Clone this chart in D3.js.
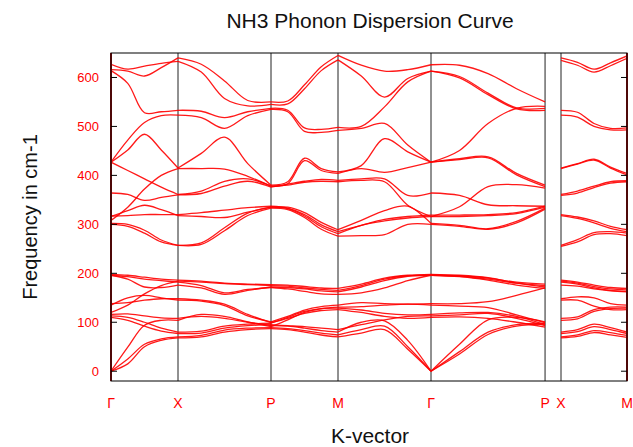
<!DOCTYPE html>
<html>
<head>
<meta charset="utf-8">
<title>NH3 Phonon Dispersion Curve</title>
<script src="https://cdn.jsdelivr.net/npm/d3@7"></script>
<style>
  body{margin:0;background:#fff;}
  text{font-family:"Liberation Sans",Arial,sans-serif;}
</style>
</head>
<body>
<script>
// high symmetry points along the path (path length units)
var kTicks=[0,1,2.388,3.388,4.776,6.478,6.716,7.701];
var kLabels=["Γ","X","P","M","Γ","P","X","M"];
var yTicks=[0,100,200,300,400,500,600];

// sample points: Γ-X-P-M-Γ-P (5 per segment), then X-M after the break
var kMain=[0,0.25,0.5,0.75,1, 1.347,1.694,2.041,2.388, 2.638,2.888,3.138,3.388,
           3.735,4.082,4.429,4.776, 5.2015,5.627,6.0525,6.478];
var kSide=[6.716,6.962,7.209,7.455,7.701];

// frequencies in cm-1 at the sample points
var highMain=[
  [616,613,603,620,640, 627,593,553,550, 552,585,622,645, 625,613,616,626, 625,608,577,550],
  [627,617,623,629,633, 611,557,542,545, 546,577,614,636, 603,560,598,613, 602,568,538,537],
  [614,588,528,530,533, 531,518,530,537, 533,497,494,498, 500,540,591,613, 599,565,536,533],
  [427,472,508,522,523, 518,496,522,535, 530,490,488,492, 496,506,462,427, 451,506,537,541]
];
var highSide=[
  [640,631,617,630,644],
  [635,625,611,624,639],
  [533,529,506,496,497],
  [523,519,500,493,493]
];
var midMain=[
  [427,452,484,452,415, 445,478,424,380, 387,435,414,407, 420,475,448,427, 434,438,404,380],
  [427,410,393,376,361, 368,388,393,378, 383,430,410,404, 414,406,416,427, 432,436,401,377],
  [364,361,349,355,360, 363,378,388,376, 382,388,392,390, 393,393,359,364, 359,340,338,337],
  [308,335,372,400,414, 414,413,398,378, 380,386,388,387, 390,387,339,316, 336,377,381,374]
];
var midSide=[
  [415,424,433,417,404],
  [414,423,431,415,401],
  [361,368,378,387,389],
  [359,364,375,384,387]
];
var libMain=[
  [317,318,320,320,320, 324,329,334,337, 333,320,299,285, 298,310,316,319, 319,320,324,337],
  [316,328,339,330,318, 316,314,325,335, 332,317,295,281, 298,307,313,316, 316,318,322,335],
  [302,300,288,268,257, 262,293,323,335, 335,324,304,289, 308,328,337,302, 298,291,306,333],
  [300,296,282,264,257, 259,287,318,333, 330,314,290,276, 277,279,300,300, 296,290,303,331]
];
var libSide=[
  [320,315,307,296,289],
  [318,312,303,292,285],
  [257,269,283,285,282],
  [255,264,279,281,277]
];
var lowMain=[
  [0,15,50,63,68, 70,80,85,87, 85,80,74,70, 78,85,45,0, 40,80,95,98],
  [0,25,55,66,70, 73,84,88,89, 87,83,78,74, 85,92,50,0, 35,75,92,96],
  [0,49,94,104,104, 116,112,101,93, 92,88,83,80, 100,103,63,0, 55,105,110,101],
  [110,104,92,82,77, 78,88,93,95, 93,91,88,85, 95,105,112,113, 115,118,108,93],
  [113,110,100,88,80, 82,92,96,98, 110,122,128,129, 125,118,115,116, 119,120,112,95],
  [116,117,113,109,108, 112,108,100,91, 105,120,128,131, 132,135,137,135, 133,130,115,99],
  [135,150,155,150,145, 143,134,113,101, 112,125,132,135, 140,138,137,138, 138,142,155,170],
  [138,140,145,148,148, 145,137,116,99, 108,118,124,126, 120,112,108,110, 111,108,100,90],
  [196,188,172,171,176, 170,157,165,172, 171,168,164,162, 172,185,194,196, 195,190,182,178],
  [196,193,188,185,182, 175,160,167,171, 168,163,158,157, 160,170,185,196, 194,188,180,175],
  [198,196,192,188,186, 184,180,178,177, 176,173,170,169, 178,190,196,198, 196,191,180,172],
  [120,135,158,175,184, 182,179,177,175, 174,170,167,165, 175,188,195,196, 193,186,176,169]
];
var lowSide=[
  [68,71,79,74,69],
  [70,74,83,79,73],
  [104,107,122,128,129],
  [77,81,91,85,77],
  [80,85,96,89,80],
  [108,111,126,131,131],
  [145,145,133,126,126],
  [148,152,150,138,135],
  [176,174,168,164,162],
  [182,178,170,165,163],
  [186,182,176,171,169],
  [184,180,173,168,166]
];

var width=633,height=447;
var plotL=111,plotR=627,plotT=53,plotB=381;

var svg=d3.select("body").append("svg")
          .attr("width",width)
          .attr("height",height);

var x=d3.scaleLinear().domain(d3.extent(kTicks)).range([plotL,plotR]);
var y=d3.scaleLinear().domain([-20,650]).range([plotB,plotT]);

svg.append("clipPath").attr("id","plotclip")
   .append("rect")
   .attr("x",plotL).attr("y",plotT)
   .attr("width",plotR-plotL).attr("height",plotB-plotT);

// separators at the symmetry points
svg.append("g").selectAll("line")
   .data(kTicks.slice(1,-1))
   .join("line")
   .attr("x1",d=>x(d)).attr("x2",d=>x(d))
   .attr("y1",plotT).attr("y2",plotB)
   .attr("stroke","#222")
   .attr("stroke-width",1);

// split each band at the symmetry points so kinks are allowed there
var line=d3.line()
           .x(d=>x(d[0]))
           .y(d=>y(d[1]))
           .curve(d3.curveCatmullRom.alpha(0.5));

function pieces(k,vals){
    var out=[];
    for(var s=0;s+4<k.length;s+=4){
        var p=[];
        for(var i=s;i<=s+4;i++){
            p.push([k[i],vals[i]]);
        }
        out.push(p);
    }
    return out;
}

var segs=[];
[highMain,midMain,libMain,lowMain].forEach(function(g){
    g.forEach(function(b){ segs=segs.concat(pieces(kMain,b)); });
});
[highSide,midSide,libSide,lowSide].forEach(function(g){
    g.forEach(function(b){ segs=segs.concat(pieces(kSide,b)); });
});

svg.append("g")
   .attr("clip-path","url(#plotclip)")
   .selectAll("path")
   .data(segs)
   .join("path")
   .attr("d",line)
   .attr("fill","none")
   .attr("stroke","#ff0000")
   .attr("stroke-width",1.3)
   .attr("stroke-opacity",0.9);

// dark red edges at both ends of the path
svg.append("g").selectAll("line")
   .data([kTicks[0],kTicks[kTicks.length-1]])
   .join("line")
   .attr("x1",d=>x(d)).attr("x2",d=>x(d))
   .attr("y1",plotT).attr("y2",plotB)
   .attr("stroke","#9b1010")
   .attr("stroke-width",2);

// frame
svg.append("rect")
   .attr("x",plotL).attr("y",plotT)
   .attr("width",plotR-plotL).attr("height",plotB-plotT)
   .attr("fill","none")
   .attr("stroke","#000")
   .attr("stroke-width",1);

// y ticks (inward, both sides)
var yt=svg.append("g");
yt.selectAll("line.l").data(yTicks).join("line")
  .attr("class","l")
  .attr("x1",plotL).attr("x2",plotL+6)
  .attr("y1",d=>y(d)).attr("y2",d=>y(d))
  .attr("stroke","#000");
yt.selectAll("line.r").data(yTicks).join("line")
  .attr("class","r")
  .attr("x1",plotR-6).attr("x2",plotR)
  .attr("y1",d=>y(d)).attr("y2",d=>y(d))
  .attr("stroke","#000");
yt.selectAll("text").data(yTicks).join("text")
  .attr("x",99)
  .attr("y",d=>y(d)+4.5)
  .attr("text-anchor","end")
  .attr("font-size",13)
  .attr("fill","#ff0000")
  .text(d=>d);

// k-point labels
svg.append("g").selectAll("text")
   .data(kTicks)
   .join("text")
   .attr("x",d=>x(d))
   .attr("y",408)
   .attr("text-anchor","middle")
   .attr("font-size",14)
   .attr("fill","#ff0000")
   .text((d,i)=>kLabels[i]);

svg.append("text")
   .attr("x",370).attr("y",28)
   .attr("text-anchor","middle")
   .attr("font-size",21)
   .attr("fill","#111")
   .text("NH3 Phonon Dispersion Curve");

svg.append("text")
   .attr("x",370).attr("y",443)
   .attr("text-anchor","middle")
   .attr("font-size",21)
   .attr("fill","#111")
   .text("K-vector");

svg.append("text")
   .attr("transform","translate(37,217) rotate(-90)")
   .attr("text-anchor","middle")
   .attr("font-size",20)
   .attr("fill","#111")
   .text("Frequency in cm-1");
</script>
</body>
</html>
